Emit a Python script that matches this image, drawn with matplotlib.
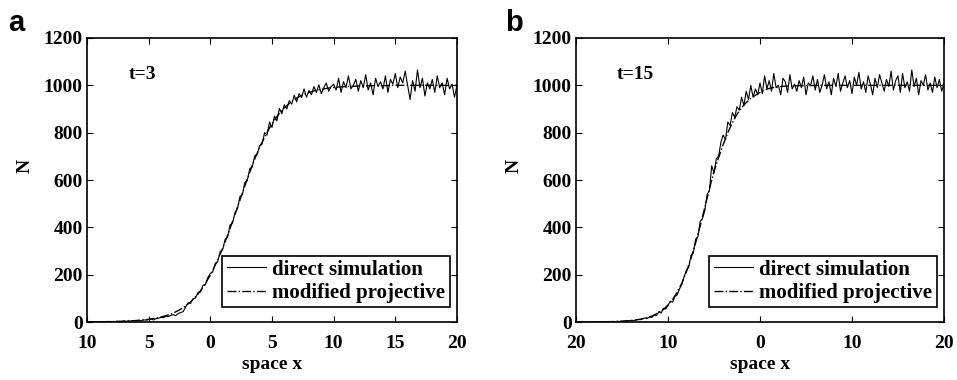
import numpy as np
import matplotlib
matplotlib.use("Agg")
import matplotlib.pyplot as plt

# ---- panel a (t=3) ----
xa_direct = np.linspace(-10, 20, 151)  # step 0.2
Na_direct = [
    0, 1, 0, 0, 1, 0, 2, 1, 0, 1,
    2, 1, 3, 2, 2, 4, 3, 5, 4, 6,
    6, 7, 5, 9, 8, 10, 12, 9, 14, 16,
    20, 18, 25, 23, 28, 31, 27, 36, 40, 44,
    64, 81, 79, 98, 102, 125, 127, 155, 158, 188,
    205, 212, 248, 255, 298, 305, 349, 358, 410, 418,
    462, 478, 530, 538, 590, 598, 648, 655, 702, 708,
    745, 752, 800, 790, 845, 822, 870, 850, 902, 880,
    918, 900, 935, 920, 958, 930, 965, 948, 985, 950,
    978, 960, 995, 970, 1002, 965, 990, 1010, 975, 995,
    1005, 980, 1030, 970, 1015, 990, 1040, 985, 1000, 1025,
    975, 1020, 990, 1045, 980, 1010, 960, 1030, 995, 1015,
    985, 1040, 970, 1025, 1005, 1050, 990, 1035, 1010, 1060,
    1000, 940, 1020, 975, 1065, 990, 1030, 955, 1010, 985,
    1025, 970, 1040, 990, 1010, 960, 1030, 985, 1005, 950,
    1000,
]
xa_proj = np.linspace(-10, 20, 61)  # step 0.5
Na_proj = [
    0.5, 0.8, 1, 1.4, 1.9, 2.6, 3.4, 4.7, 6.3, 8.5,
    11.5, 15.6, 21, 28, 38, 51, 68, 90, 118, 154,
    198, 251, 312, 380, 455, 530, 605, 676, 738, 792,
    838, 875, 905, 928, 946, 960, 970, 978, 983, 988,
    991, 993, 995, 996, 997, 998, 998, 999, 999, 999,
    1000, 1000, 1000, 1000, 1000, 1000, 1000, 1000, 1000, 1000,
    1000,
]

# ---- panel b (t=15) ----
xb_direct = np.linspace(-20, 20, 161)  # step 0.25
Nb_direct = [
    0, 0, 1, 0, 0, 0, 1, 0,
    0, 1, 0, 1, 2, 1, 0, 2,
    2, 1, 3, 2, 4, 3, 6, 5,
    7, 5, 9, 11, 10, 14, 17, 15,
    22, 19, 31, 27, 44, 38, 58, 55,
    70, 88, 84, 108, 115, 140, 158, 192,
    218, 232, 281, 292, 350, 360, 425, 438,
    470, 540, 555, 660, 630, 690, 700, 760,
    790, 770, 845, 830, 885, 865, 910, 895,
    950, 915, 975, 940, 1000, 950, 985, 960,
    1010, 965, 1040, 985, 1020, 975, 1050, 990,
    1000, 960, 1030, 1015, 970, 1045, 985, 1005,
    975, 1020, 990, 1035, 960, 1010, 1000, 1040,
    980, 1025, 970, 1000, 1045, 985, 1015, 960,
    1030, 995, 1050, 975, 1010, 1040, 990, 1020,
    965, 1035, 1000, 1055, 985, 1015, 970, 1040,
    1005, 960, 1030, 990, 1045, 1010, 975, 1025,
    995, 1060, 980, 1020, 1040, 970, 1050, 990,
    1015, 975, 1065, 995, 1030, 960, 1020, 1000,
    1045, 980, 1010, 970, 1035, 990, 1025, 975,
    1010,
]
xb_proj = np.linspace(-20, 20, 81)  # step 0.5
Nb_proj = [
    0.15, 0.2, 0.28, 0.4, 0.5, 0.7, 1.0, 1.3,
    1.8, 2.5, 3.4, 4.6, 6.3, 8.6, 11.7, 16,
    21.7, 29, 40, 53, 72, 95, 126, 164,
    212, 269, 334, 407, 484, 562, 637, 695,
    750, 800, 842, 878, 905, 927, 945, 958,
    970, 980, 987, 991, 994, 996, 997, 998,
    998, 999, 999, 999, 1000, 1000, 1000, 1000,
    1000, 1000, 1000, 1000, 1000, 1000, 1000, 1000,
    1000, 1000, 1000, 1000, 1000, 1000, 1000, 1000,
    1000, 1000, 1000, 1000, 1000, 1000, 1000, 1000,
    1000,
]

yticks = [0, 200, 400, 600, 800, 1000, 1200]
xa_ticks = [-10, -5, 0, 5, 10, 15, 20]
xa_ticklabels = ["10", "5", "0", "5", "10", "15", "20"]
xb_ticks = [-20, -10, 0, 10, 20]
xb_ticklabels = ["20", "10", "0", "10", "20"]

serif = "Liberation Serif"
fs = 14

fig = plt.figure(figsize=(9.57, 3.8), dpi=100)
ax_a = fig.add_axes([0.0909, 0.1526, 0.3866, 0.7474])
ax_b = fig.add_axes([0.6019, 0.1526, 0.3845, 0.7474])

panels = [
    (ax_a, xa_direct, Na_direct, xa_proj, Na_proj, xa_ticks, xa_ticklabels, "t=3", -6.6, "a"),
    (ax_b, xb_direct, Nb_direct, xb_proj, Nb_proj, xb_ticks, xb_ticklabels, "t=15", -15.6, "b"),
]

for ax, xd, nd, xp, npj, xt, xtl, tlabel, tx, letter in panels:
    ax.plot(xd, nd, color="black", lw=0.8, label="direct simulation")
    ax.plot(xp, npj, color="black", lw=1.0, ls="-.", label="modified projective")
    ax.set_xlim(xt[0], xt[-1])
    ax.set_ylim(0, 1200)
    ax.set_xticks(xt)
    ax.set_xticklabels(xtl)
    ax.set_yticks(yticks)
    ax.tick_params(direction="in", top=True, right=True, length=4, width=0.8, pad=3)
    ax.tick_params(axis="x", pad=9)
    for lab in ax.get_xticklabels() + ax.get_yticklabels():
        lab.set_fontfamily(serif)
        lab.set_fontweight("bold")
        lab.set_fontsize(fs)
    for sp in ax.spines.values():
        sp.set_linewidth(1.2)
    ax.set_xlabel("space x", fontfamily=serif, fontweight="bold", fontsize=fs, labelpad=3)
    ax.set_ylabel("N", fontfamily=serif, fontweight="bold", fontsize=fs)
    ax.yaxis.set_label_coords(-0.145, 0.55)
    ax.text(tx, 1045, tlabel, fontfamily=serif, fontweight="bold", fontsize=fs, va="center")
    leg = ax.legend(loc="lower right", bbox_to_anchor=(0.98, 0.053), borderaxespad=0,
                    fancybox=False, edgecolor="black", framealpha=1,
                    prop={"family": serif, "weight": "bold", "size": 15},
                    handlelength=1.9, handletextpad=0.3, borderpad=0.2, labelspacing=0.15)
    leg.get_frame().set_linewidth(1.2)

fig.text(0.008, 0.94, "a", fontfamily="Liberation Sans", fontweight="bold", fontsize=21, va="center")
fig.text(0.528, 0.94, "b", fontfamily="Liberation Sans", fontweight="bold", fontsize=21, va="center")

fig.savefig("out.png", dpi=100)
